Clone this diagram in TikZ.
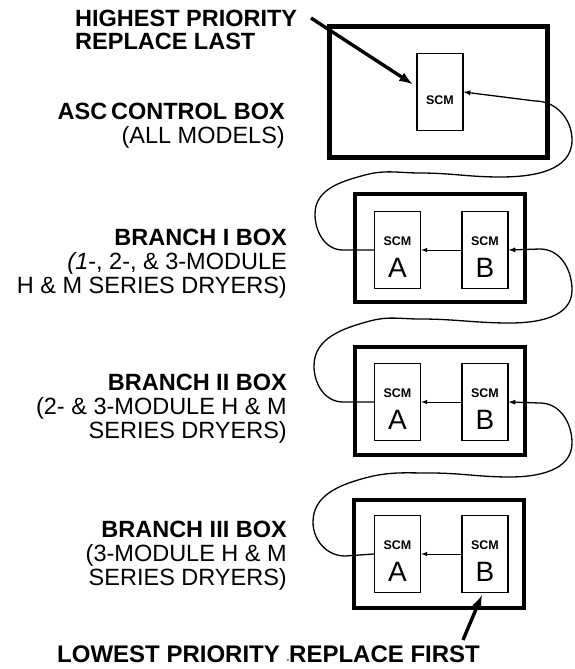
\documentclass[tikz,border=0pt]{standalone}
\usepackage{fontspec}
\setmainfont{Liberation Sans}
\usetikzlibrary{shapes,arrows,positioning}

\begin{document}
\begin{tikzpicture}[x=1pt,y=-1pt,
  scm/.style={draw=black,line width=1.4pt,minimum width=46pt,minimum height=77pt,inner sep=0pt},
  scmtxt/.style={inner sep=0pt,font=\bfseries\fontsize{12.5}{13}\selectfont},
  letter/.style={inner sep=0pt,font=\fontsize{28}{28}\selectfont},
  ctrl/.style={draw=black,line width=3.5pt,minimum width=170pt,minimum height=108pt,inner sep=0pt},
  lbl/.style={align=right,anchor=base east,inner sep=0pt,font=\fontsize{23.5}{24}\selectfont},
  wire/.style={->,>=latex,line width=1.3pt},
  pointer/.style={->,>=latex,line width=3.4pt}]
\useasboundingbox (0,0) rectangle (574,669);
%ASC control box
\node[ctrl,line width=5pt,minimum width=218pt,minimum height=131pt](asc) at (438,92){};
\node[scm,line width=1.2pt](SCM0) at (440,92){};
\node[scmtxt] at ([yshift=-8pt]SCM0.center){SCM};
\draw(75,50) node[lbl,anchor=base west,align=left,font=\bfseries\fontsize{23.5}{24}\selectfont](hp){HIGHEST PRIORITY\\REPLACE LAST};
\draw(285,143) node[lbl](lasc){{\bfseries ASC\,CONTROL BOX}\\(ALL MODELS)};
\coordinate (ptop) at (311,18);
\draw[pointer] (ptop) -- ([xshift=-4pt,yshift=8pt]SCM0.west);
% Branch I
\node[ctrl](br1) at (440,248){};
\node[scm](A1) at (397.5,250){};
\node[scm,right=40pt of A1](B1){};
\draw(287,293) node[lbl](lbr1){{\bfseries BRANCH I BOX}\\\textit{(1}-, 2-, \& 3-MODULE\\H \& M SERIES DRYERS)};
% Branch II
\node[ctrl](br2) at (440,401){};
\node[scm](A2) at (397.5,402){};
\node[scm,right=40pt of A2](B2){};
\draw(287,438) node[lbl](lbr2){{\bfseries BRANCH II BOX}\\(2- \& 3-MODULE H \& M\\SERIES DRYERS)};
% Branch III
\node[ctrl](br3) at (439,554){};
\node[scm](A3) at (397.5,554){};
\node[scm,right=40pt of A3](B3){};
\draw(287,585) node[lbl](lbr3){{\bfseries BRANCH III BOX}\\(3-MODULE H \& M\\SERIES DRYERS)};
\draw(57,662) node[lbl,anchor=base west,font=\bfseries\fontsize{24}{24}\selectfont](low){LOWEST PRIORITY {\fontsize{8}{8}\selectfont -}REPLACE FIRST};
\coordinate (pbot) at (463,640);
\draw[pointer] (pbot) -- ([xshift=-3pt,yshift=-2pt]B3.south);
% SCM labels
\foreach \n in {1,2,3}{
  \node[scmtxt] at ([yshift=9pt]A\n.center){SCM};
  \node[letter] at ([yshift=-18pt]A\n.center){A};
  \node[scmtxt] at ([yshift=9pt]B\n.center){SCM};
  \node[letter] at ([yshift=-18pt]B\n.center){B};
  \draw[wire,line width=1pt] (B\n.west) -- (A\n.east);
}
% Wires
\draw[wire] (A1.west) -- (343,250) to[out=180,in=-90] (315,214) to[out=90,in=195] (365,175) to[out=15,in=180] (420,173) to[out=0,in=180] (500,177) to[out=0,in=-90] (572,140) to[out=90,in=0] (535,101) -- (SCM0.east);
\draw[wire] (A2.west) -- (343,402) to[out=180,in=-90] (314,366) to[out=90,in=195] (370,321) to[out=15,in=180] (420,319) to[out=0,in=180] (510,323) to[out=0,in=-90] (572,290) to[out=90,in=0] (540,249) -- (B1.east);
\draw[wire] (A3.west) -- (345,556) to[out=180,in=-90] (313,522) to[out=90,in=195] (365,478) to[out=15,in=180] (430,473) to[out=0,in=180] (510,477) to[out=0,in=-90] (572,443) to[out=90,in=0] (540,403) -- (B2.east);

\end{tikzpicture}
\end{document}
